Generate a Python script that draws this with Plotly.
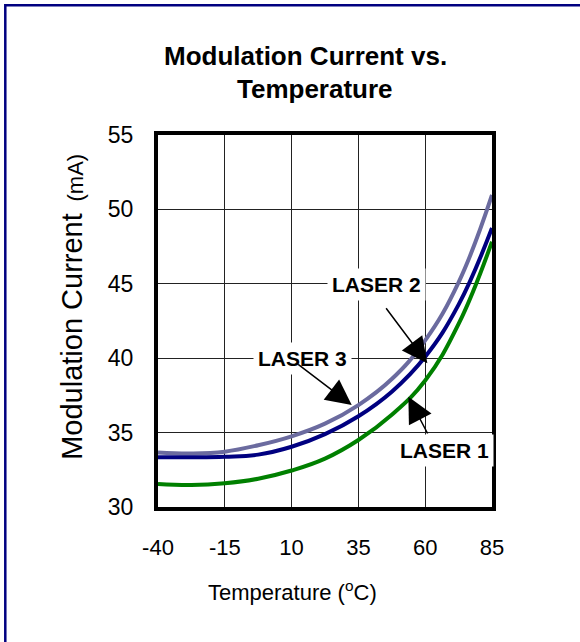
import plotly.graph_objects as go

# ---- data ----
temperature = [-40, -27.5, -15, -2.5, 10, 22.5, 35, 47.5, 60, 72.5, 85]
laser1 = [31.55, 31.48, 31.6, 31.9, 32.45, 33.25, 34.5, 36.2, 38.5, 42.3, 47.83]
laser2 = [33.34, 33.34, 33.38, 33.52, 34.05, 34.9, 36.1, 37.75, 40.1, 43.6, 48.75]
laser3 = [33.67, 33.6, 33.72, 34.15, 34.75, 35.6, 36.85, 38.6, 41.2, 45.1, 50.97]
x_ticks = [-40, -15, 10, 35, 60, 85]
y_ticks = [30, 35, 40, 45, 50, 55]

FONT = "Liberation Sans, Arial, sans-serif"

fig = go.Figure()
for ys, col in [(laser3, "#6B6B9F"), (laser2, "#000080"), (laser1, "#008000")]:
    fig.add_trace(go.Scatter(x=temperature, y=ys, mode="lines",
                             line=dict(color=col, width=4, shape="spline", smoothing=1.2),
                             showlegend=False, hoverinfo="skip"))

# text labels
labels = [("LASER 2", 41.6, 44.92), ("LASER 3", 13.9, 40.0), ("LASER 1", 67.4, 33.83)]
for t, x, y in labels:
    fig.add_annotation(x=x, y=y, xref="x", yref="y", text="<b>" + t + "</b>", showarrow=False,
                       font=dict(family=FONT, size=21, color="black"),
                       bgcolor="white", borderpad=4)

# arrows (tail -> head)
arrows = [((44.95, 43.46), (60.8, 39.66)),
          ((11.9, 39.66), (32.5, 36.85)),
          ((61.2, 34.84), (53.7, 37.41))]
for (tx, ty), (hx, hy) in arrows:
    fig.add_annotation(x=hx, y=hy, ax=tx, ay=ty, xref="x", yref="y", axref="x", ayref="y",
                       text="", showarrow=True, arrowhead=2, arrowsize=3.4,
                       arrowwidth=1.5, arrowcolor="black", standoff=0)

# titles
fig.add_annotation(x=0.4416, y=1.213, xref="paper", yref="paper", text="<b>Modulation Current vs.</b>",
                   showarrow=False, font=dict(family=FONT, size=26, color="black"),
                   xanchor="center", yanchor="middle")
fig.add_annotation(x=0.4686, y=1.1225, xref="paper", yref="paper", text="<b>Temperature</b>",
                   showarrow=False, font=dict(family=FONT, size=26, color="black"),
                   xanchor="center", yanchor="middle")
fig.add_annotation(x=0.404, y=-0.225, xref="paper", yref="paper",
                   text="Temperature (<sup>o</sup>C)",
                   showarrow=False, font=dict(family=FONT, size=22, color="black"),
                   xanchor="center", yanchor="middle")
fig.add_annotation(x=-0.258, y=(507 - 336) / 372, xref="paper", yref="paper",
                   text="Modulation Current",
                   textangle=-90, showarrow=False, font=dict(family=FONT, size=29, color="black"),
                   xanchor="center", yanchor="middle")
fig.add_annotation(x=-0.25, y=(507 - 178) / 372, xref="paper", yref="paper",
                   text="(mA)",
                   textangle=-90, showarrow=False, font=dict(family=FONT, size=22, color="black"),
                   xanchor="center", yanchor="middle")

# outer navy border (right and bottom sides lie outside the picture)
fig.add_shape(type="rect", xref="paper", yref="paper",
              x0=-0.4572, x1=2.0, y0=-1.0, y1=1.3487,
              line=dict(color="#000080", width=2.5), fillcolor="rgba(0,0,0,0)")

fig.update_xaxes(range=[-40, 85], tickvals=x_ticks, ticktext=[str(v) for v in x_ticks],
                 showgrid=True, gridcolor="#222222", gridwidth=1,
                 showline=True, linecolor="black", linewidth=4, mirror=True,
                 ticks="", ticklabelstandoff=18, zeroline=False,
                 tickfont=dict(family=FONT, size=22, color="black"))
fig.update_yaxes(range=[30, 55], tickvals=y_ticks, ticktext=[str(v) for v in y_ticks],
                 showgrid=True, gridcolor="#222222", gridwidth=1,
                 showline=True, linecolor="black", linewidth=4, mirror=True,
                 ticks="", ticklabelstandoff=16, zeroline=False,
                 tickfont=dict(family=FONT, size=23, color="black"))

fig.update_layout(width=580, height=642, autosize=False,
                  margin=dict(l=158, r=88, t=135, b=135),
                  paper_bgcolor="white", plot_bgcolor="white",
                  font=dict(family=FONT, color="black"))

fig.write_html("out.html", config={"displayModeBar": False},
               post_script="document.body.style.margin='0';"
                           "document.documentElement.style.overflow='hidden';"
                           "document.body.style.overflow='hidden';")
